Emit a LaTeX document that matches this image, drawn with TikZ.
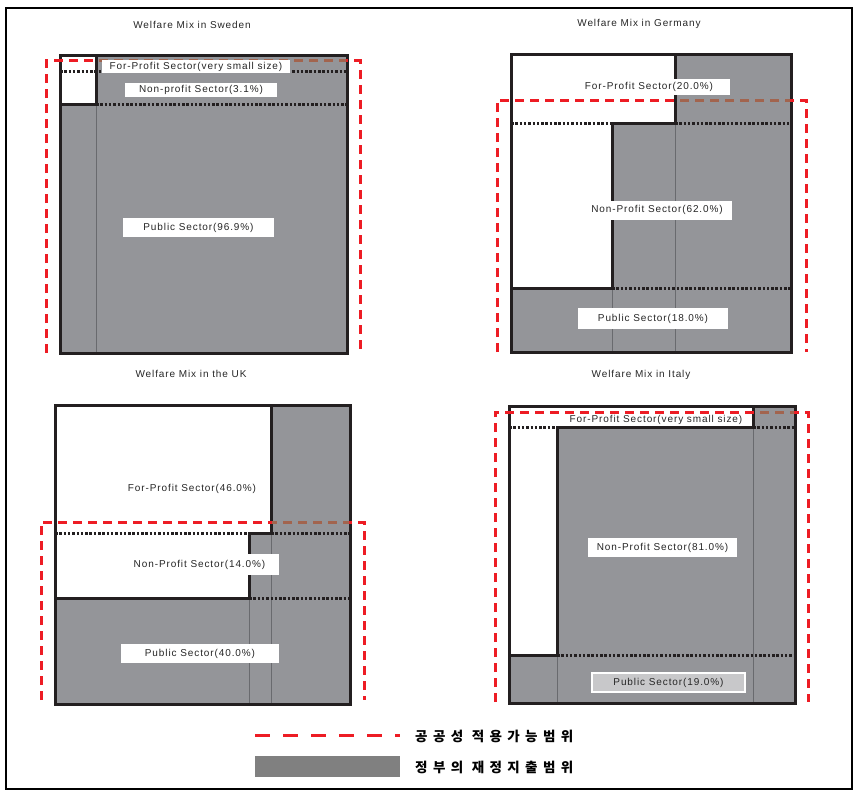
\documentclass[tikz,border=0pt]{standalone}
\usepackage{fontspec}
\setmainfont{Liberation Sans}
\newfontfamily\lblfont[LetterSpace=9]{Liberation Sans}
\newfontfamily\kr[LetterSpace=40]{Noto Sans CJK KR}
\definecolor{panelgrey}{RGB}{148,149,153}
\definecolor{edgecol}{RGB}{35,31,32}
\definecolor{thincol}{RGB}{105,106,110}
\definecolor{pubred}{RGB}{237,28,36}
\definecolor{pubbrown}{RGB}{162,100,78}
\definecolor{labelgrey}{RGB}{200,200,202}
\definecolor{legendgrey}{RGB}{128,128,128}
\tikzset{
  greyarea/.style={fill=panelgrey, draw=none},
  whitearea/.style={fill=white, draw=none},
  thinsep/.style={draw=thincol, line width=0.9pt},
  dotsep/.style={draw=edgecol, line width=3pt, dash pattern=on 2.5pt off 1.8pt},
  thickedge/.style={draw=edgecol, line width=3pt},
  reddash/.style={draw=pubred, line width=3pt, dash pattern=on 9pt off 6pt},
  browndash/.style={draw=pubbrown, line width=3pt, dash pattern=on 9pt off 6pt},
  lbl/.style={fill=white, inner sep=0pt, align=center, text=black!85,
              font=\lblfont\fontsize{10}{11}\selectfont},
  plainlbl/.style={inner sep=1pt, text=black!85, font=\lblfont\fontsize{10}{11}\selectfont},
  paneltitle/.style={inner sep=1pt, text=black!85, font=\lblfont\fontsize{10}{11}\selectfont},
  legendtext/.style={inner sep=0pt, anchor=west, font=\kr\bfseries\fontsize{13.5}{15}\selectfont},
}
\begin{document}
\begin{tikzpicture}[x=1pt,y=-1pt]
\useasboundingbox (0,0) rectangle (857,800);
\draw[line width=1.2pt, black] (6,8) rectangle (852,789);

% ---------------- Sweden ----------------
\node[paneltitle] (tS) at (192,25) {Welfare Mix in Sweden};
\fill[greyarea] (60,56) rectangle (347,353);
\fill[whitearea] (60,56) rectangle (96,104);
\draw[thinsep] (96,104) -- (96,353);
\draw[dotsep] (60,72) -- (347,72);
\draw[dotsep] (96,104) -- (347,104);
\draw[thickedge] (96,56) -- (96,104) -- (60,104);
\draw[thickedge] (60,56) rectangle (347,353);
\draw[reddash] (46,353) -- (46,61) -- (360,61) -- (360,353);
\begin{scope}
  \clip (97,50) rectangle (346,70);
  \draw[browndash] (46,353) -- (46,61) -- (360,61) -- (360,353);
\end{scope}
\node[lbl, minimum width=188pt, minimum height=13pt] (sFP) at (196,66.5) {For-Profit Sector(very small size)};
\node[lbl, minimum width=152pt, minimum height=14pt] (sNP) at (201,90) {Non-profit Sector(3.1\%)};
\node[lbl, minimum width=151pt, minimum height=19pt] (sPub) at (198.5,227.5) {Public Sector(96.9\%)};

% ---------------- Germany ----------------
\node[paneltitle] (tG) at (639,24) {Welfare Mix in Germany};
\fill[greyarea] (511,55) rectangle (791,352);
\fill[whitearea] (511,55) -- (675,55) -- (675,123) -- (612,123) -- (612,288) -- (511,288) -- cycle;
\draw[thinsep] (675,123) -- (675,352);
\draw[thinsep] (612,288) -- (612,352);
\draw[dotsep] (511,123) -- (612,123);
\draw[dotsep] (675,123) -- (791,123);
\draw[dotsep] (612,288) -- (791,288);
\draw[thickedge] (675,55) -- (675,123) -- (612,123) -- (612,288) -- (511,288);
\draw[thickedge] (511,55) rectangle (791,352);
\draw[reddash] (497,352) -- (497,100) -- (806,100) -- (806,352);
\begin{scope}
  \clip (676,90) rectangle (790,110);
  \draw[browndash] (497,352) -- (497,100) -- (806,100) -- (806,352);
\end{scope}
\node[lbl, minimum width=162pt, minimum height=16pt] (gFP) at (649,87) {For-Profit Sector(20.0\%)};
\node[lbl, minimum width=150pt, minimum height=19pt] (gNP) at (657,210) {Non-Profit Sector(62.0\%)};
\node[lbl, minimum width=150pt, minimum height=21pt] (gPub) at (653,318.5) {Public Sector(18.0\%)};

% ---------------- UK ----------------
\node[paneltitle] (tU) at (191,374) {Welfare Mix in the UK};
\fill[greyarea] (55,405) rectangle (350,704);
\fill[whitearea] (55,405) -- (271,405) -- (271,533) -- (249,533) -- (249,598) -- (55,598) -- cycle;
\draw[thinsep] (271,533) -- (271,704);
\draw[thinsep] (249,598) -- (249,704);
\draw[dotsep] (55,533) -- (249,533);
\draw[dotsep] (271,533) -- (350,533);
\draw[dotsep] (249,598) -- (350,598);
\draw[thickedge] (271,405) -- (271,533) -- (249,533) -- (249,598) -- (55,598);
\draw[thickedge] (55,405) rectangle (350,704);
\draw[reddash] (41,700) -- (41,522) -- (364,522) -- (364,700);
\begin{scope}
  \clip (272,512) rectangle (349,530);
  \draw[browndash] (41,700) -- (41,522) -- (364,522) -- (364,700);
\end{scope}
\node[plainlbl] (uFP) at (192,489) {For-Profit Sector(46.0\%)};
\node[lbl, minimum width=159pt, minimum height=21pt] (uNP) at (199.5,564.5) {Non-Profit Sector(14.0\%)};
\node[lbl, minimum width=158pt, minimum height=19pt] (uPub) at (200,653.5) {Public Sector(40.0\%)};

% ---------------- Italy ----------------
\node[paneltitle] (tI) at (641,375) {Welfare Mix in Italy};
\fill[greyarea] (509,406) rectangle (795,703);
\fill[whitearea] (509,406) -- (753,406) -- (753,427) -- (557,427) -- (557,655) -- (509,655) -- cycle;
\draw[thinsep] (753,427) -- (753,703);
\draw[thinsep] (557,655) -- (557,703);
\draw[dotsep] (509,427) -- (557,427);
\draw[dotsep] (753,427) -- (795,427);
\draw[dotsep] (557,655) -- (795,655);
\draw[thickedge] (753,406) -- (753,427) -- (557,427) -- (557,655) -- (509,655);
\draw[thickedge] (509,406) rectangle (795,703);
\draw[reddash] (495,702) -- (495,412) -- (808,412) -- (808,702);
\begin{scope}
  \clip (754,402) rectangle (794,420);
  \draw[browndash] (495,702) -- (495,412) -- (808,412) -- (808,702);
\end{scope}
\node[plainlbl] (iFP) at (656,420) {For-Profit Sector(very small size)};
\node[lbl, minimum width=149pt, minimum height=19pt] (iNP) at (662.5,547.5) {Non-Profit Sector(81.0\%)};
\node[lbl, fill=labelgrey, draw=white, line width=1.5pt, minimum width=153pt, minimum height=19pt] (iPub) at (668.5,682.5) {Public Sector(19.0\%)};

% ---------------- Legend ----------------
\coordinate (lgA) at (255,735);
\coordinate (lgB) at (400,735);
\draw[draw=pubred, line width=3pt, dash pattern=on 15pt off 13pt] (lgA) -- (lgB);
\node[legendtext] (lgT1) at (415,736) {공공성 적용가능범위};
\node[fill=legendgrey, draw=none, minimum width=145pt, minimum height=21pt, inner sep=0pt] (lgBox) at (327.5,766.5) {};
\node[legendtext] (lgT2) at (415,767) {정부의 재정지출범위};
\end{tikzpicture}
\end{document}
